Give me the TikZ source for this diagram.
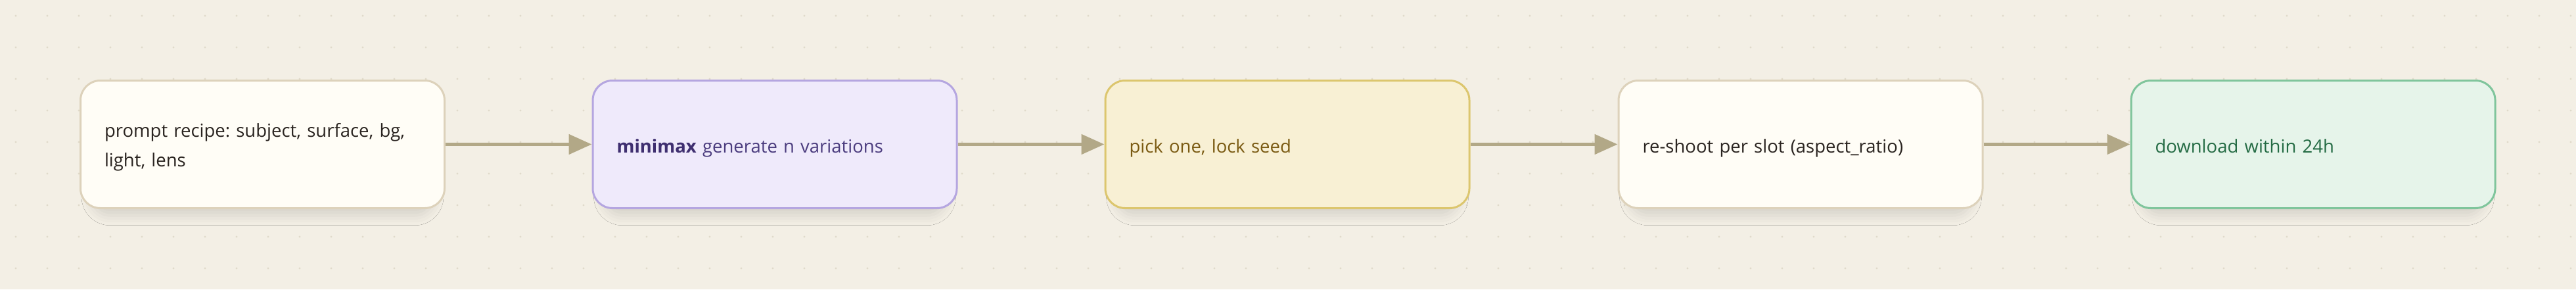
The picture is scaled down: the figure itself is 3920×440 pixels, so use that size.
\documentclass[tikz,border=0pt]{standalone}
\usepackage{fontspec}
\setmainfont{Open Sans}
\usetikzlibrary{arrows.meta,shadows.blur}
\frenchspacing

\definecolor{paper}{HTML}{F3EFE5}
\definecolor{griddot}{HTML}{E0DACB}
\definecolor{plainfill}{HTML}{FFFDF6}
\definecolor{plainline}{HTML}{DDD2BB}
\definecolor{plaintext}{HTML}{2A2420}
\definecolor{lilacfill}{HTML}{EFEAFB}
\definecolor{lilacline}{HTML}{B5A6E0}
\definecolor{lilactext}{HTML}{4B3C7E}
\definecolor{lilacbold}{HTML}{3F2F70}
\definecolor{sandfill}{HTML}{F8F0D4}
\definecolor{sandline}{HTML}{DCC66E}
\definecolor{sandtext}{HTML}{7A5A12}
\definecolor{mintfill}{HTML}{E6F4EA}
\definecolor{mintline}{HTML}{80C59C}
\definecolor{minttext}{HTML}{246B44}
\definecolor{flow}{HTML}{B2A887}

\begin{document}
\begin{tikzpicture}[x=1pt,y=-1pt]

      \fill[paper] (0,0) rectangle (3920,440);
      \foreach \i in {0,...,81}
        \foreach \j in {0,...,8}
          \fill[griddot] (24+48*\i,24+48*\j) circle (1.6);

      \begin{scope}[every node/.style={draw,rounded corners=30pt,line width=3pt,
          text width=481pt,align=left,inner xsep=36.5pt,minimum height=194pt,
          text height=25pt,text depth=0pt,
          font=\fontsize{27.5}{45}\selectfont,
          blur shadow={shadow xshift=0pt,shadow yshift=-18pt,shadow scale=0.94,
            shadow blur radius=16pt,shadow opacity=12}}]
        \node[fill=plainfill,draw=plainline,text=plaintext,
          text height=10pt,text depth=33pt] (1) at (399.5,219.5)
          {prompt recipe: subject, surface, bg,\\light, lens};
        \node[fill=lilacfill,draw=lilacline,text=lilactext] (2) at (1179,219.5)
          {\textcolor{lilacbold}{\textbf{minimax}} generate n variations};
        \node[fill=sandfill,draw=sandline,text=sandtext] (3) at (1959,219.5)
          {pick one, lock seed};
        \node[fill=plainfill,draw=plainline,text=plaintext] (4) at (2740,219.5)
          {re-shoot per slot (aspect\_ratio)};
        \node[fill=mintfill,draw=mintline,text=minttext] (5) at (3520,219.5)
          {download within 24h};
      \end{scope}

      \begin{scope}[every edge/.style={draw=flow,line width=5pt,
          -{Triangle[length=35pt,width=30pt]}}]
        \path (1) edge (2);
        \path (2) edge (3);
        \path (3) edge (4);
        \path (4) edge (5);
      \end{scope}

    \end{tikzpicture}
\end{document}
